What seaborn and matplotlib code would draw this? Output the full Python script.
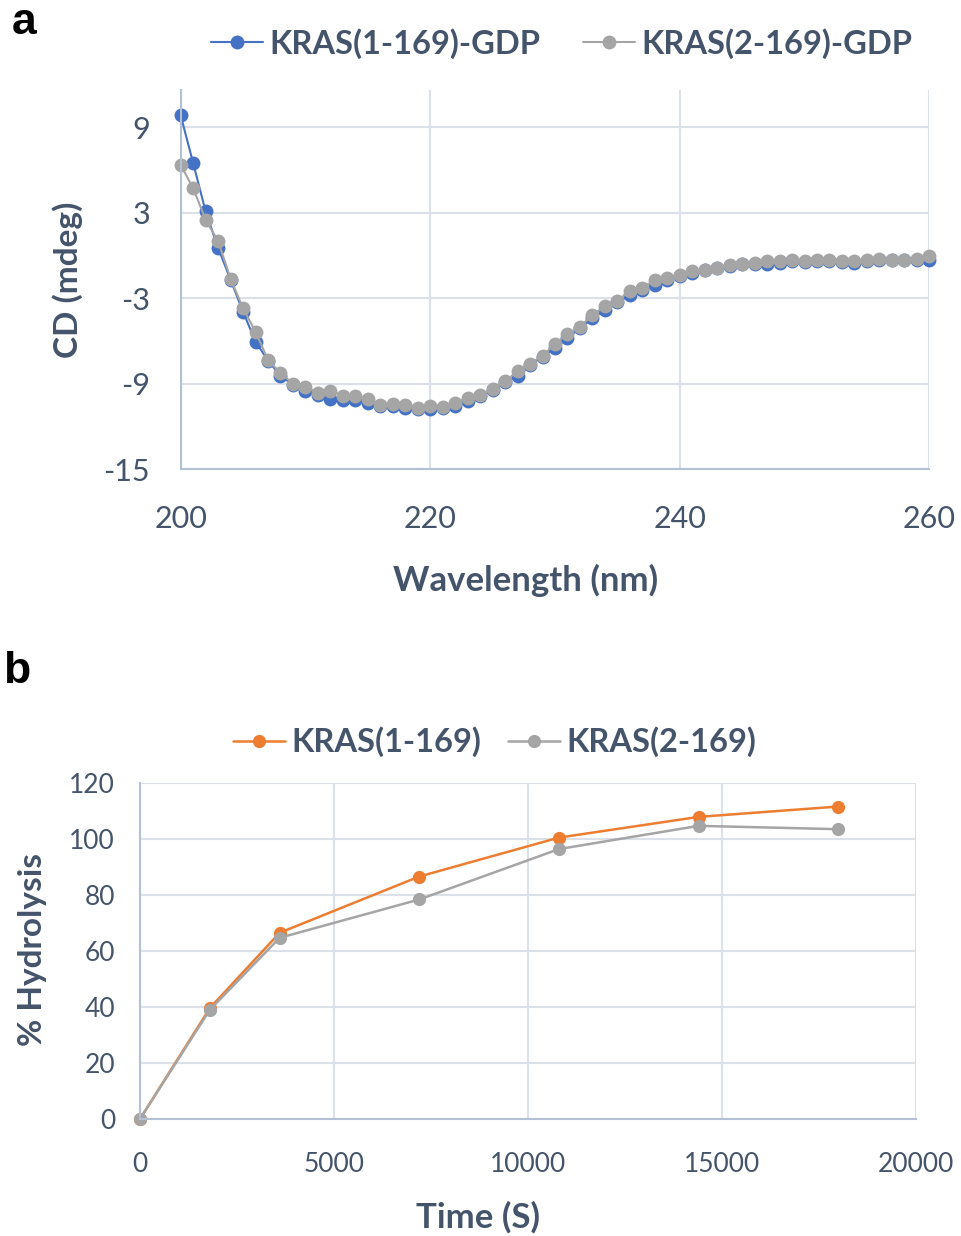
import matplotlib
matplotlib.use("Agg")
import matplotlib.pyplot as plt
import seaborn as sns
import pandas as pd

# panel a: CD spectra
wavelength = list(range(200, 261))
cd_1_169 = [9.84, 6.49, 3.09, 0.53, -1.70, -3.96, -6.05, -7.38, -8.45, -9.07,
            -9.54, -9.77, -10.07, -10.17, -10.17, -10.35, -10.54, -10.59, -10.70, -10.77,
            -10.77, -10.70, -10.59, -10.23, -9.90, -9.45, -8.90, -8.49, -7.70, -7.10,
            -6.51, -5.81, -5.10, -4.42, -3.84, -3.30, -2.79, -2.45, -2.10, -1.70,
            -1.45, -1.20, -1.05, -0.85, -0.72, -0.62, -0.60, -0.60, -0.50, -0.40,
            -0.45, -0.38, -0.40, -0.45, -0.50, -0.40, -0.32, -0.35, -0.35, -0.30,
            -0.30]
cd_2_169 = [6.35, 4.72, 2.51, 1.00, -1.63, -3.72, -5.35, -7.33, -8.26, -9.00,
            -9.24, -9.65, -9.49, -9.84, -9.84, -10.07, -10.47, -10.40, -10.47, -10.70,
            -10.59, -10.63, -10.35, -10.00, -9.77, -9.38, -8.84, -8.14, -7.61, -7.05,
            -6.21, -5.52, -5.00, -4.19, -3.56, -3.19, -2.49, -2.26, -1.75, -1.56,
            -1.35, -1.10, -1.00, -0.86, -0.65, -0.58, -0.51, -0.40, -0.40, -0.30,
            -0.40, -0.30, -0.30, -0.40, -0.40, -0.35, -0.23, -0.30, -0.30, -0.23,
            -0.02]

# panel b: GTP hydrolysis
time_s = [0, 1800, 3600, 7200, 10800, 14400, 18000]
hyd_1_169 = [0, 39.6, 66.5, 86.6, 100.5, 107.9, 111.6]
hyd_2_169 = [0, 39.0, 64.7, 78.4, 96.4, 104.7, 103.5]

BLUE, GRAY, ORANGE = "#4472C4", "#A5A5A5", "#ED7D31"
TXT = "#44546A"
GRID = "#DCE1E8"
SPINE = "#B4C0D3"

sns.set_theme(style="white")
plt.rcParams['font.family'] = ['Lato', 'DejaVu Sans']
plt.rcParams['axes.unicode_minus'] = False

cd = pd.concat([
    pd.DataFrame({'wl': wavelength, 'cd': cd_1_169, 'protein': 'KRAS(1-169)-GDP'}),
    pd.DataFrame({'wl': wavelength, 'cd': cd_2_169, 'protein': 'KRAS(2-169)-GDP'}),
])
hyd = pd.concat([
    pd.DataFrame({'t': time_s, 'h': hyd_1_169, 'protein': 'KRAS(1-169)'}),
    pd.DataFrame({'t': time_s, 'h': hyd_2_169, 'protein': 'KRAS(2-169)'}),
])

fig = plt.figure(figsize=(9.61, 12.36), dpi=100)
ax1 = fig.add_axes([0.188, 0.6205, 0.779, 0.3065])
ax2 = fig.add_axes([0.1457, 0.0947, 0.8073, 0.2718])


def style(ax, tick_size, pad):
    ax.grid(True, color=GRID, linewidth=1.5)
    ax.set_axisbelow(True)
    for s in ['top', 'right']:
        ax.spines[s].set_visible(False)
    for s in ['left', 'bottom']:
        ax.spines[s].set_color(SPINE)
        ax.spines[s].set_linewidth(1.5)
    ax.tick_params(axis='both', length=0, labelsize=tick_size, labelcolor=TXT, pad=pad)


sns.lineplot(data=cd, x='wl', y='cd', hue='protein', palette=[BLUE, GRAY],
             marker='o', markersize=10, markeredgewidth=0, linewidth=1.5,
             clip_on=False, ax=ax1)
style(ax1, 22, 22)
ax1.tick_params(axis='x', pad=26)
ax1.set_xlim(200, 260)
ax1.set_ylim(-15, 11.6)
ax1.set_xticks([200, 220, 240, 260])
ax1.set_yticks([-15, -9, -3, 3, 9])
ax1.set_xlabel('Wavelength (nm)', fontsize=25, fontweight='bold', color=TXT, va='center')
ax1.set_ylabel('CD (mdeg)', fontsize=24, fontweight='bold', color=TXT, va='center')
ax1.xaxis.set_label_coords(0.461, -0.293)
ax1.yaxis.set_label_coords(-0.151, 0.5)
sns.move_legend(ax1, 'center', bbox_to_anchor=(0.509, 1.124), ncol=2, frameon=False,
                title=None, handlelength=1.6, handletextpad=0.2, columnspacing=1.3,
                prop={'size': 23.5, 'weight': 'bold'})
for t in ax1.get_legend().get_texts():
    t.set_color(TXT)

sns.lineplot(data=hyd, x='t', y='h', hue='protein', palette=[ORANGE, GRAY],
             marker='o', markersize=9.5, markeredgewidth=0, linewidth=1.8,
             clip_on=False, ax=ax2)
style(ax2, 19, 18)
ax2.tick_params(axis='x', pad=24)
ax2.set_xlim(0, 20000)
ax2.set_ylim(0, 120)
ax2.set_xticks([0, 5000, 10000, 15000, 20000])
ax2.set_yticks(range(0, 121, 20))
ax2.set_xlabel('Time (S)', fontsize=25, fontweight='bold', color=TXT, va='center')
ax2.set_ylabel('% Hydrolysis', fontsize=24, fontweight='bold', color=TXT, va='center')
ax2.xaxis.set_label_coords(0.436, -0.292)
ax2.yaxis.set_label_coords(-0.138, 0.503)
sns.move_legend(ax2, 'center', bbox_to_anchor=(0.457, 1.122), ncol=2, frameon=False,
                title=None, handlelength=1.6, handletextpad=0.2, columnspacing=0.8,
                prop={'size': 23.5, 'weight': 'bold'})
for t in ax2.get_legend().get_texts():
    t.set_color(TXT)

fig.text(0.012, 0.982, 'a', fontsize=32, fontweight='bold', color='black',
         family='Liberation Sans', va='center')
fig.text(0.003, 0.457, 'b', fontsize=32, fontweight='bold', color='black',
         family='Liberation Sans', va='center')

fig.savefig('out.png', dpi=100, facecolor='white')
